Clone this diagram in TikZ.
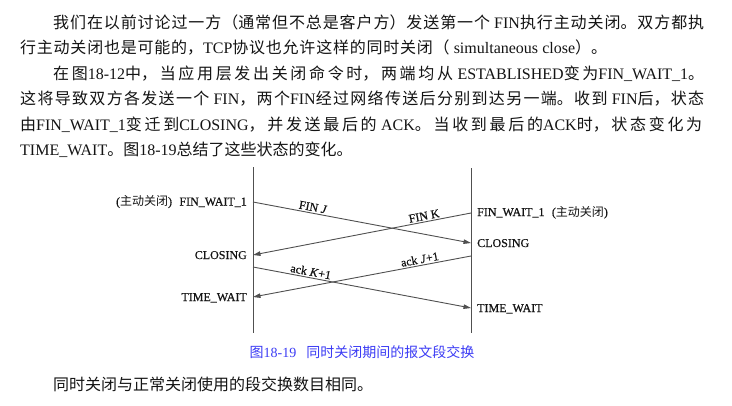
\documentclass[tikz,border=0pt]{standalone}
\usepackage{fontspec}
\setmainfont{Liberation Serif}
\newfontfamily\cjk{Noto Sans CJK SC}
\newfontfamily\dgm[FakeBold=0.5]{Liberation Serif}
\usetikzlibrary{arrows.meta}
\newcommand\C[1]{{\cjk #1}}
\newcommand\jline[2]{\parbox[b]{#1}{\XeTeXlinebreaklocale "zh"\XeTeXlinebreakskip=0pt plus 12pt\relax
  \tolerance=10000\hbadness=10000\parfillskip=0pt\relax #2}}
\definecolor{bodyink}{RGB}{20,20,20}
\definecolor{lineink}{RGB}{80,80,80}
\definecolor{capblue}{RGB}{60,60,245}
\tikzset{
  body/.style={anchor=base west, inner sep=0pt, text=bodyink, font=\fontsize{16}{20}\selectfont},
  lifeline/.style={draw=lineink, line width=0.8pt},
  msg/.style={draw=lineink, line width=0.9pt, -{Triangle[length=7.5pt,width=4.5pt]}},
  stlab/.style={inner sep=0pt, text=bodyink, font=\dgm\fontsize{12}{14}\selectfont},
  msglab/.style={sloped, above, inner sep=1.5pt, text=bodyink, font=\dgm\fontsize{12}{14}\selectfont},
  figcap/.style={anchor=base, inner sep=0pt, text=capblue, font=\fontsize{14}{16}\selectfont}
}
\begin{document}
\begin{tikzpicture}[x=1pt,y=-1pt]
\useasboundingbox[fill=white] (0,0) rectangle (732,405);
% paragraph text
\node[body] (t1) at (53,28) {\jline{651pt}{\C{我们在以前讨论过一方（通常但不总是客户方）发送第一个} FIN\C{执行主动关闭。双方都执}}};
\node[body] (t2) at (20,53.5) {\jline{587pt}{\C{行主动关闭也是可能的，}TCP\C{协议也允许这样的同时关闭（} simultaneous close\C{）。}}};
\node[body] (t3) at (53,79) {\jline{651pt}{\C{在图}18-12\C{中，当应用层发出关闭命令时，两端均从} ESTABLISHED\C{变为}FIN\_WAIT\_1\C{。}}};
\node[body] (t4) at (20,104.5) {\jline{684pt}{\C{这将导致双方各发送一个} FIN\C{，两个}FIN\C{经过网络传送后分别到达另一端。收到} FIN\C{后，状态}}};
\node[body] (t5) at (20,130) {\jline{682pt}{\C{由}FIN\_WAIT\_1\C{变迁到}CLOSING\C{，并发送最后的} ACK\C{。当收到最后的}ACK\C{时，状态变化为}}};
\node[body] (t6) at (20,155.5) {TIME\_WAIT\C{。图}18-19\C{总结了这些状态的变化。}};
% lifelines
\coordinate (ltop) at (253,167);
\coordinate (lbot) at (253,333);
\coordinate (rtop) at (471,168);
\coordinate (rbot) at (471,333);
\draw[lifeline] (ltop) -- (lbot);
\draw[lifeline] (rtop) -- (rbot);
% message end points
\coordinate (finjS) at (253,202);
\coordinate (finjE) at (471,243);
\coordinate (finkS) at (471,213);
\coordinate (finkE) at (253,255);
\coordinate (ackjS) at (471,256);
\coordinate (ackjE) at (253,297);
\coordinate (ackkS) at (253,267);
\coordinate (ackkE) at (471,308);
\draw[msg] (finjS) -- node[msglab, pos=0.27] (lfinj) {FIN \textit{J}} (finjE);
\draw[msg] (finkS) -- node[msglab, pos=0.21] (lfink) {FIN K} (finkE);
\draw[msg] (ackjS) -- node[msglab, pos=0.23] (lackj) {ack \textit{J}+1} (ackjE);
\draw[msg] (ackkS) -- node[msglab, pos=0.26] (lackk) {ack \textit{K}+1} (ackkE);
% state labels, left
\node[stlab, anchor=base east] (lfw) at (247,205.5) {FIN\_WAIT\_1};
\node[stlab, anchor=base east] (lact) at ([xshift=-7pt]lfw.base west) {(\C{主动关闭})};
\node[stlab, anchor=base east] (lcl) at (247,259) {CLOSING};
\node[stlab, anchor=base east] (ltw) at (247,301) {TIME\_WAIT};
% state labels, right
\node[stlab, anchor=base west] (rfw) at (477,216) {FIN\_WAIT\_1};
\node[stlab, anchor=base west] (ract) at ([xshift=7pt]rfw.base east) {(\C{主动关闭})};
\node[stlab, anchor=base west] (rcl) at (477,247) {CLOSING};
\node[stlab, anchor=base west] (rtw) at (477,312) {TIME\_WAIT};
% caption and closing sentence
\node[figcap] (caption) at (362,357) {\C{图}18-19\hspace{10pt}\C{同时关闭期间的报文段交换}};
\node[body] (t7) at (53,390) {\C{同时关闭与正常关闭使用的段交换数目相同。}};
\end{tikzpicture}
\end{document}
